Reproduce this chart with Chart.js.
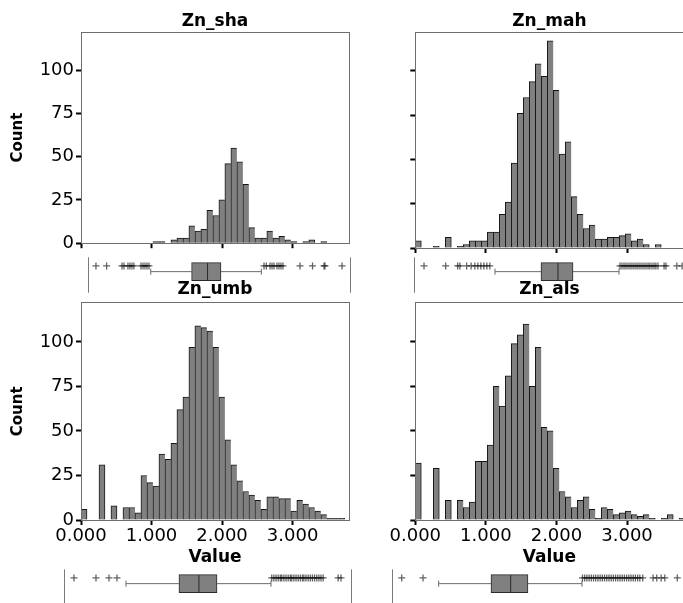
<!DOCTYPE html>
<html>
<head>
<meta charset="utf-8">
<script src="https://cdn.jsdelivr.net/npm/chart.js@4.4.1/dist/chart.umd.min.js"></script>
<style>
html,body{margin:0;padding:0;background:#fff;width:683px;height:603px;overflow:hidden;}
body{position:relative;}
canvas{position:absolute;}
</style>
</head>
<body>
<canvas id="hSha"></canvas>
<canvas id="hMah"></canvas>
<canvas id="hUmb"></canvas>
<canvas id="hAls"></canvas>
<canvas id="bSha"></canvas>
<canvas id="bMah"></canvas>
<canvas id="bUmb"></canvas>
<canvas id="bAls"></canvas>
<script>
// ---------- data ----------
const binCenters = [0.0425,0.1275,0.2125,0.2975,0.3825,0.4675,0.5525,0.6375,0.7225,0.8075,
  0.8925,0.9775,1.0625,1.1475,1.2325,1.3175,1.4025,1.4875,1.5725,1.6575,
  1.7425,1.8275,1.9125,1.9975,2.0825,2.1675,2.2525,2.3375,2.4225,2.5075,
  2.5925,2.6775,2.7625,2.8475,2.9325,3.0175,3.1025,3.1875,3.2725,3.3575,
  3.4425,3.5275,3.6125,3.6975,3.7825];

const countsSha = [null,null,null,null,null,null,null,null,null,null,
  null,null,1,1,null,2,3,3,10,7,
  8,19,16,25,46,55,47,34,9,3,
  3,7,3,4,2,1,null,1,2,null,
  1,null,null,null,null];
const countsMah = [4,null,null,1,null,6,null,1,2,4,
  4,4,9,9,19,26,48,76,85,94,
  104,97,117,89,53,60,29,19,11,13,
  5,5,6,6,7,8,4,5,2,null,
  2,null,null,null,null];
const countsUmb = [6,null,null,31,null,8,null,7,7,4,
  25,21,19,37,34,43,62,69,97,109,
  108,106,97,69,45,31,22,16,14,11,
  6,13,13,12,12,5,11,9,7,5,
  3,1,1,1,null];
const countsAls = [32,null,null,29,null,11,null,11,7,10,
  33,33,42,75,64,81,99,104,110,75,
  97,52,50,29,16,13,7,11,13,6,
  1,7,6,3,4,5,3,2,3,1,
  null,1,3,null,1];

const xTickValues = [0, 1, 2, 3];
const yTickValues = [0, 25, 50, 75, 100];

// box plots: [lower whisker, Q1, median, Q3, upper whisker]
const boxSha = [1.55, 1.96, 2.12, 2.255, 2.66];
const outSha = [1.00,1.107,1.261,1.281,1.321,1.341,1.361,1.381,1.452,1.472,1.492,1.512,1.532,
  2.687,2.71,2.747,2.767,2.787,2.817,2.837,2.857,2.877,3.048,3.174,3.289,3.299,3.47];
const rangeSha = [0.92, 3.55];

const boxMah = [0.949, 1.564, 1.791, 1.992, 2.607];
const outMah = [0.0,0.29,0.45,0.48,0.57,0.63,0.68,0.72,0.76,0.80,0.84,0.88,
  2.62,2.647,2.674,2.70,2.727,2.754,2.78,2.807,2.834,2.86,2.887,2.914,2.941,2.968,2.995,
  3.02,3.048,3.075,3.10,3.128,3.21,3.235,3.38,3.45];
const rangeMah = [-0.134, 3.476];

const boxUmb = [0.728, 1.47, 1.75, 2.003, 2.759];
const outUmb = [0.0,0.308,0.49,0.602,
  2.77,2.80,2.83,2.86,2.89,2.91,2.94,2.97,3.00,3.03,3.05,3.08,3.11,3.14,3.17,3.20,
  3.22,3.25,3.28,3.31,3.34,3.37,3.40,3.43,3.46,3.49,3.70,3.74];
const rangeUmb = [-0.14, 3.88];

const boxAls = [0.503, 1.215, 1.483, 1.718, 2.453];
const outAls = [0.0,0.29,
  2.46,2.49,2.52,2.55,2.58,2.61,2.64,2.67,2.70,2.73,2.76,2.79,2.82,2.85,2.88,2.91,
  2.94,2.97,3.00,3.03,3.06,3.09,3.12,3.15,3.18,3.21,3.24,3.28,
  3.42,3.47,3.53,3.58,3.75];
const rangeAls = [-0.132, 3.841];

// ---------- helpers ----------
const FONT = 'DejaVu Sans';
const framePlugin = {
  id: 'frame',
  afterDatasetsDraw(chart) {
    const {ctx, chartArea: a} = chart;
    ctx.save();
    ctx.strokeStyle = '#6e6e6e';
    ctx.lineWidth = 1;
    const l = Math.floor(a.left) + 0.5, t = Math.floor(a.top) + 0.5;
    const r = Math.floor(a.right) + 0.5, b = Math.floor(a.bottom) + 0.5;
    ctx.strokeRect(l, t, r - l, b - t);
    ctx.restore();
  }
};
const sidePlugin = {
  id: 'sides',
  beforeDatasetsDraw(chart) {
    const {ctx, chartArea: a} = chart;
    ctx.save();
    ctx.strokeStyle = '#7a7a7a';
    ctx.lineWidth = 1;
    ctx.beginPath();
    const l = Math.floor(a.left) + 0.5, r = Math.floor(a.right) + 0.5;
    ctx.moveTo(l, a.top); ctx.lineTo(l, a.bottom);
    ctx.moveTo(r, a.top); ctx.lineTo(r, a.bottom);
    ctx.stroke();
    ctx.restore();
  }
};

function place(id, p) {
  const cv = document.getElementById(id);
  cv.width = p.w; cv.height = p.h;
  cv.style.left = p.x + 'px'; cv.style.top = p.y + 'px';
  return cv;
}

function histChart(id, p, title, counts, showX, showY) {
  const cv = place(id, p);
  return new Chart(cv, {
    type: 'bar',
    data: {
      datasets: [{
        data: binCenters.map((c, i) => ({x: c, y: counts[i]})),
        backgroundColor: '#808080',
        borderColor: '#161616',
        borderWidth: (ctx) => {
          const i = ctx.dataIndex;
          const nxt = (i === undefined) ? null : counts[i + 1];
          return {left: 1, top: 1, bottom: 0, right: (nxt == null) ? 1 : 0};
        },
        borderSkipped: false,
        barPercentage: 1,
        categoryPercentage: 1
      }]
    },
    options: {
      responsive: false, animation: false, devicePixelRatio: 1,
      layout: {padding: {left: 0, right: p.pr, top: 0, bottom: 0}},
      plugins: {
        legend: {display: false},
        tooltip: {enabled: false},
        title: {
          display: true, text: title, fullSize: false, color: '#000',
          font: {family: FONT, weight: 'bold', size: 17},
          padding: {top: p.tt, bottom: p.tb}
        }
      },
      scales: {
        x: {
          type: 'linear', min: 0, max: 3.8, offset: false,
          afterBuildTicks: s => { s.ticks = xTickValues.map(v => ({value: v})); },
          afterFit: s => { s.height = p.xh; },
          grid: {display: true, offset: false, drawOnChartArea: false, drawTicks: true,
                 tickLength: 5, tickWidth: 2, tickColor: '#000'},
          border: {display: false},
          ticks: {display: showX, padding: 1, color: '#000', maxRotation: 0, autoSkip: false,
                  font: {family: FONT, size: 18}, callback: v => Number(v).toFixed(3)},
          title: {display: showX, text: 'Value', color: '#000',
                  font: {family: FONT, weight: 'bold', size: 17}, padding: {top: 0, bottom: 0}}
        },
        y: {
          type: 'linear', min: 0, max: 122,
          afterBuildTicks: s => { s.ticks = yTickValues.map(v => ({value: v})); },
          afterFit: s => { s.width = p.yw; },
          grid: {display: true, drawOnChartArea: false, drawTicks: true,
                 tickLength: 5, tickWidth: 2, tickColor: '#000'},
          border: {display: false},
          ticks: {display: showY, padding: 2, color: '#000', font: {family: FONT, size: 18}},
          title: {display: showY, text: 'Count', color: '#000',
                  font: {family: FONT, weight: 'bold', size: 15}, padding: {top: 9, bottom: 0}}
        }
      }
    },
    plugins: [framePlugin]
  });
}

function boxChart(id, p, stats, outs, range) {
  const cv = place(id, p);
  const [wlo, q1, med, q3, whi] = stats;
  const whisk = {type: 'line', borderColor: '#6a6a6a', borderWidth: 1, pointRadius: 0, order: 4};
  return new Chart(cv, {
    type: 'scatter',
    data: {
      datasets: [
        Object.assign({data: [{x: wlo, y: 0}, {x: q1, y: 0}]}, whisk),
        Object.assign({data: [{x: q3, y: 0}, {x: whi, y: 0}]}, whisk),
        Object.assign({data: [{x: wlo, y: -0.16}, {x: wlo, y: 0.16}]}, whisk),
        Object.assign({data: [{x: whi, y: -0.16}, {x: whi, y: 0.16}]}, whisk),
        {type: 'bar', indexAxis: 'y', data: [{x: [q1, q3], y: 0}], barThickness: 18,
         backgroundColor: '#808080', borderColor: '#2a2a2a', borderWidth: 1,
         borderSkipped: false, order: 2},
        {type: 'line', data: [{x: med, y: -0.45}, {x: med, y: 0.45}],
         borderColor: '#2a2a2a', borderWidth: 1, pointRadius: 0, order: 1},
        {type: 'scatter', data: outs.map(v => ({x: v, y: 0.3})), pointStyle: 'cross',
         pointRadius: 3.5, borderColor: 'rgba(0,0,0,0.62)', borderWidth: 1.3, order: 0}
      ]
    },
    options: {
      responsive: false, animation: false, devicePixelRatio: 1,
      layout: {padding: {left: p.pl, right: p.pr, top: 4, bottom: 5}},
      plugins: {legend: {display: false}, tooltip: {enabled: false}},
      scales: {
        x: {type: 'linear', min: range[0], max: range[1], display: false,
            offset: false, beginAtZero: false, grace: 0, grid: {offset: false}},
        y: {type: 'linear', min: -1.1, max: 0.75, display: false,
            offset: false, beginAtZero: false, grace: 0, grid: {offset: false}}
      }
    },
    plugins: [sidePlugin]
  });
}

// ---------- charts ----------
histChart('hSha', {x: 0, y: 0, w: 360, h: 256, yw: 81, xh: 8, pr: 11, tt: 11, tb: 0.6}, 'Zn_sha', countsSha, false, true);
histChart('hMah', {x: 360, y: 0, w: 330, h: 256, yw: 55.3, xh: 8, pr: 6.5, tt: 11, tb: 0.6}, 'Zn_mah', countsMah, false, false);
histChart('hUmb', {x: 0, y: 276, w: 360, h: 292, yw: 81, xh: 48, pr: 11, tt: 3, tb: 3.3}, 'Zn_umb', countsUmb, true, true);
histChart('hAls', {x: 360, y: 276, w: 330, h: 292, yw: 55.3, xh: 48, pr: 6.5, tt: 3, tb: 3.3}, 'Zn_als', countsAls, true, false);

boxChart('bSha', {x: 0, y: 252, w: 360, h: 46, pl: 88, pr: 10}, boxSha, outSha, rangeSha);
boxChart('bMah', {x: 360, y: 252, w: 330, h: 46, pl: 54, pr: 6}, boxMah, outMah, rangeMah);
boxChart('bUmb', {x: 0, y: 564, w: 360, h: 46, pl: 64, pr: 9}, boxUmb, outUmb, rangeUmb);
boxChart('bAls', {x: 360, y: 564, w: 330, h: 46, pl: 32, pr: 6}, boxAls, outAls, rangeAls);
</script>
</body>
</html>
